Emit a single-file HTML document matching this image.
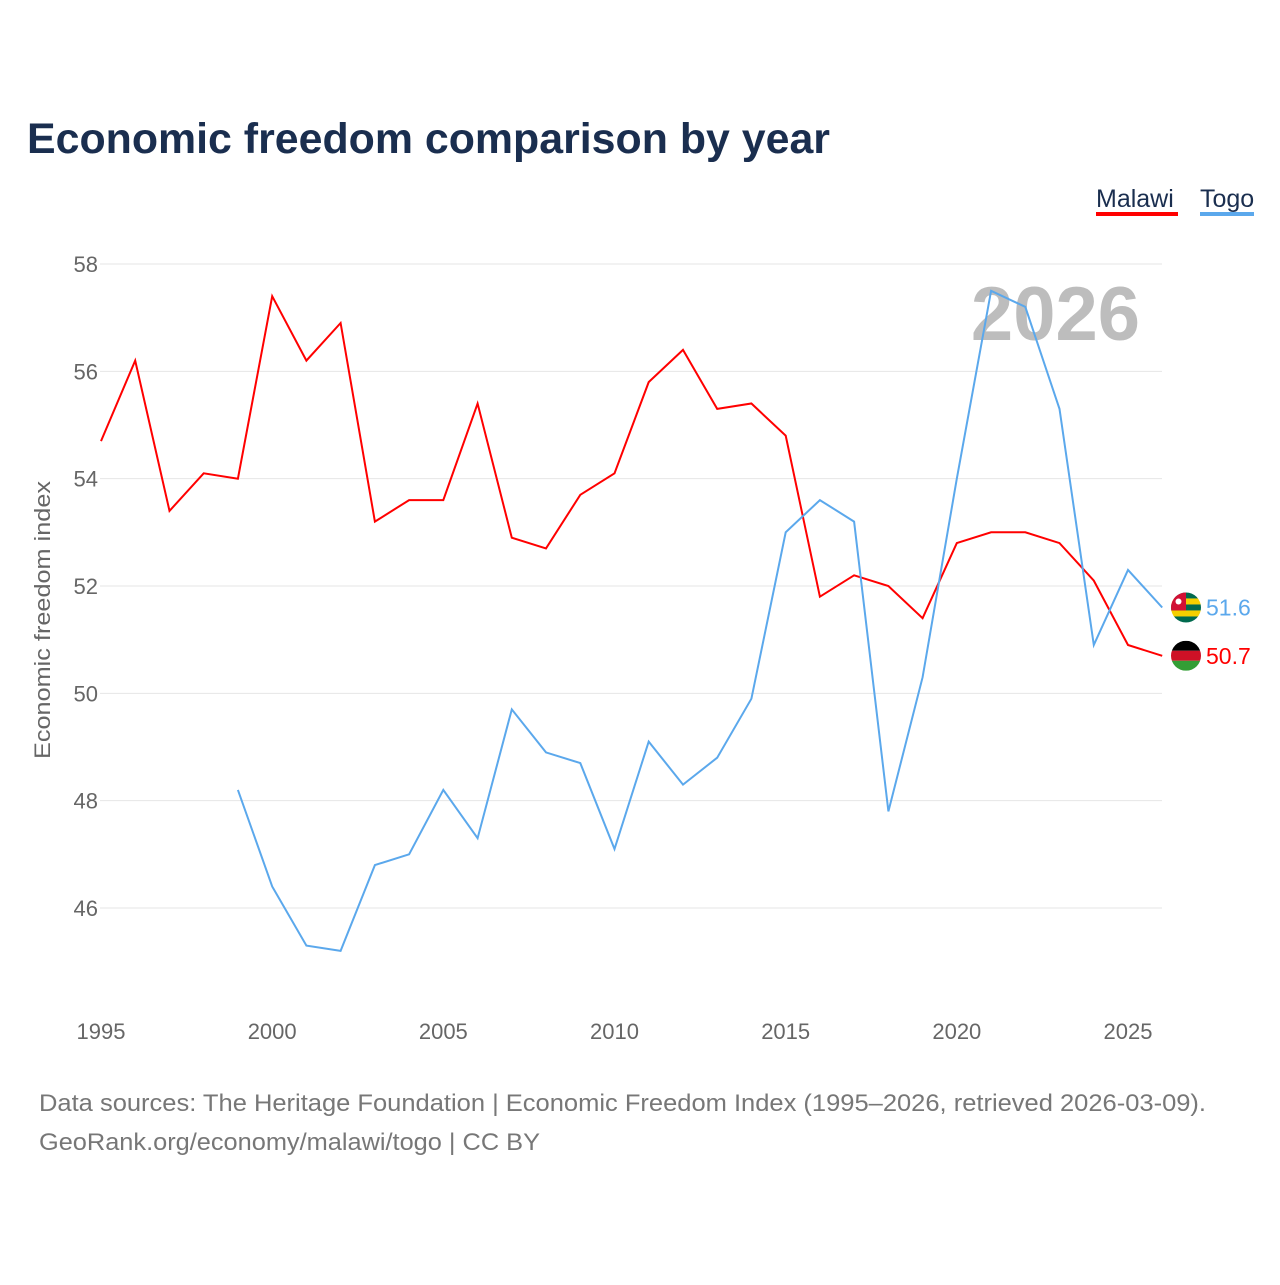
<!DOCTYPE html>
<html><head><meta charset="utf-8">
<style>
body{margin:0;background:#fff;font-family:"Liberation Sans",sans-serif;}
svg text{font-family:"Liberation Sans",sans-serif;}
</style></head>
<body>
<svg id="chart" width="1280" height="1280" viewBox="0 0 1280 1280" xmlns="http://www.w3.org/2000/svg">
<text x="27" y="153" font-size="43" font-weight="bold" fill="#1a2e4f" textLength="803" lengthAdjust="spacingAndGlyphs">Economic freedom comparison by year</text>
<g>
<text x="1096" y="207" font-size="25" fill="#1a2e4f">Malawi</text>
<rect x="1096" y="212" width="82" height="4" fill="#ff0000"/></g>
<g>
<text x="1200" y="207" font-size="25" fill="#1a2e4f">Togo</text>
<rect x="1200" y="212" width="54" height="4" fill="#5ba8ec"/></g>
<g id="grid"></g>
<g id="yticks"></g>
<g id="xticks"></g>
<text x="1140" y="340" text-anchor="end" font-size="76" font-weight="bold" fill="#bdbdbd">2026</text>
<text transform="translate(50,620) rotate(-90)" x="-139" font-size="22" fill="#666" textLength="278" lengthAdjust="spacingAndGlyphs">Economic freedom index</text>
<g id="series"></g>
<text x="39" y="1111" font-size="24" fill="#777" textLength="1167" lengthAdjust="spacingAndGlyphs">Data sources: The Heritage Foundation | Economic Freedom Index (1995–2026, retrieved 2026-03-09).</text>
<text x="39" y="1150" font-size="24" fill="#777" textLength="501" lengthAdjust="spacingAndGlyphs">GeoRank.org/economy/malawi/togo | CC BY</text>
</svg>
<script>
const years=[1995,1996,1997,1998,1999,2000,2001,2002,2003,2004,2005,2006,2007,2008,2009,2010,2011,2012,2013,2014,2015,2016,2017,2018,2019,2020,2021,2022,2023,2024,2025,2026];
const malawi=[54.7,56.2,53.4,54.1,54.0,57.4,56.2,56.9,53.2,53.6,53.6,55.4,52.9,52.7,53.7,54.1,55.8,56.4,55.3,55.4,54.8,51.8,52.2,52.0,51.4,52.8,53.0,53.0,52.8,52.1,50.9,50.7];
const togo=[null,null,null,null,48.2,46.4,45.3,45.2,46.8,47.0,48.2,47.3,49.7,48.9,48.7,47.1,49.1,48.3,48.8,49.9,53.0,53.6,53.2,47.8,50.3,54.0,57.5,57.2,55.3,50.9,52.3,51.6];
const yTicks=[46,48,50,52,54,56,58];
const xTicks=[1995,2000,2005,2010,2015,2020,2025];
const NS="http://www.w3.org/2000/svg";
const X=v=>101+(v-1995)*(1128-101)/30;
const Y=v=>908-(v-46)*(908-264)/12;
function mk(tag,attrs,parent){const e=document.createElementNS(NS,tag);for(const k in attrs)e.setAttribute(k,attrs[k]);parent.appendChild(e);return e;}
const grid=document.getElementById('grid'),yt=document.getElementById('yticks'),xt=document.getElementById('xticks'),ser=document.getElementById('series');
yTicks.forEach(t=>{
 const l=mk('line',{x1:100,x2:1162,y1:Y(t),y2:Y(t),stroke:'#e6e6e6','stroke-width':1},grid);
 
 
 const tx=mk('text',{x:98,y:Y(t)+8,'text-anchor':'end','font-size':22,fill:'#666'},yt);
 tx.textContent=t;
 
 
});
xTicks.forEach(t=>{
 const tx=mk('text',{x:X(t),y:1039,'text-anchor':'middle','font-size':22,fill:'#666'},xt);
 tx.textContent=t;
 
 
});
function line(vals,color,name){
 let d='';vals.forEach((v,i)=>{if(v==null)return;d+=(d?'L':'M')+X(years[i]).toFixed(1)+','+Y(v).toFixed(1);});
 const p=mk('path',{d:d,fill:'none',stroke:color,'stroke-width':2},ser);
 
 
}
line(malawi,'#ff0000','malawi');
line(togo,'#5ba8ec','togo');
function endLabel(vals,color,name,flag){
 const v=vals[vals.length-1],y=Y(v),cx=1186;
 const g=mk('g',{},ser);
 
 
 if(flag==='togo'){
  const c=mk('clipPath',{id:'ct'},g);mk('circle',{cx:cx,cy:y,r:15},c);
  const f=mk('g',{'clip-path':'url(#ct)'},g);
  for(let i=0;i<5;i++)mk('rect',{x:cx-15,y:y-15+i*6,width:30,height:6,fill:i%2?'#f5d000':'#006a4e'},f);
  mk('rect',{x:cx-15,y:y-15,width:15,height:18,fill:'#d21034'},f);
  mk('circle',{cx:cx-7.5,cy:y-6,r:3,fill:'#fff'},f);
 }else{
  const c=mk('clipPath',{id:'cm'},g);mk('circle',{cx:cx,cy:y,r:15},c);
  const f=mk('g',{'clip-path':'url(#cm)'},g);
  mk('rect',{x:cx-15,y:y-15,width:30,height:10,fill:'#000'},f);
  mk('rect',{x:cx-15,y:y-5,width:30,height:10,fill:'#ce1126'},f);
  mk('rect',{x:cx-15,y:y+5,width:30,height:10,fill:'#339e35'},f);
 }
 const t=mk('text',{x:1206,y:y+8,'font-size':23,fill:color},g);
 t.textContent=v.toFixed(1);
}
endLabel(togo,'#5ba8ec','togo','togo');
endLabel(malawi,'#ff0000','malawi','malawi');
</script>
</body></html>
